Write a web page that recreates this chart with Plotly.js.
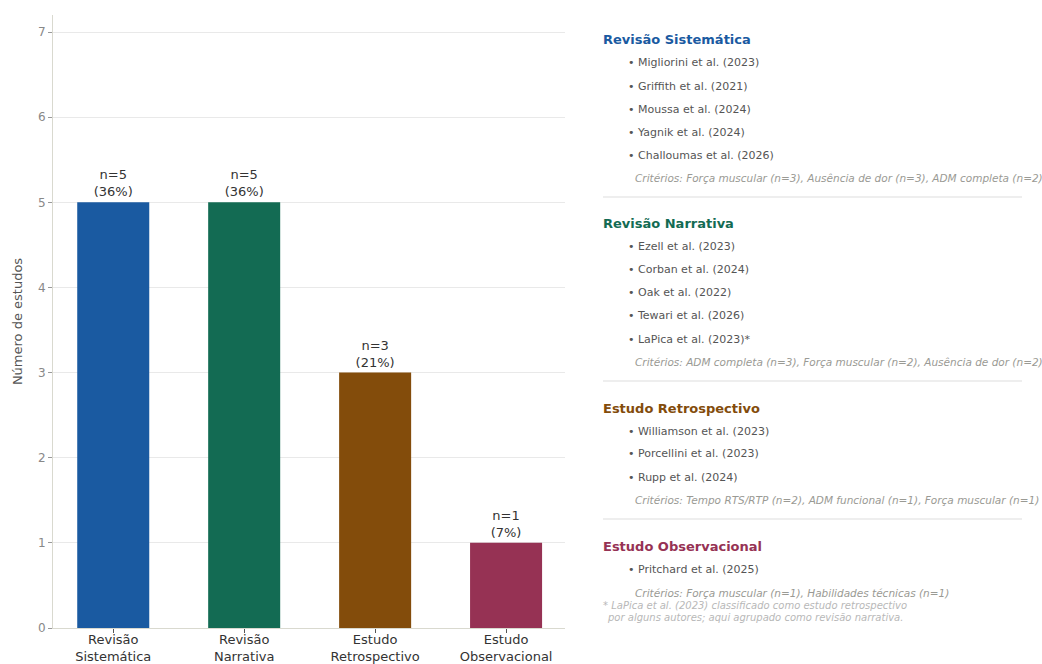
<!DOCTYPE html>
<html>
<head>
<meta charset="utf-8">
<script src="https://cdn.plot.ly/plotly-3.0.1.min.js"></script>
<style>html,body{margin:0;padding:0;background:#fff;}#chart{width:1042px;height:664px;}</style>
</head>
<body>
<div id="chart"></div>
<script>
// ---- data ----
const categories = ["Revisão<br>Sistemática", "Revisão<br>Narrativa", "Estudo<br>Retrospectivo", "Estudo<br>Observacional"];
const groupNames = ["Revisão Sistemática", "Revisão Narrativa", "Estudo Retrospectivo", "Estudo Observacional"];
const counts = [5, 5, 3, 1];
const percents = [36, 36, 21, 7];
const colors = ["#1a5aa1", "#136b53", "#834c0b", "#963254"];
const studiesSistematica = ["Migliorini et al. (2023)", "Griffith et al. (2021)", "Moussa et al. (2024)", "Yagnik et al. (2024)", "Challoumas et al. (2026)"];
const studiesNarrativa = ["Ezell et al. (2023)", "Corban et al. (2024)", "Oak et al. (2022)", "Tewari et al. (2026)", "LaPica et al. (2023)*"];
const studiesRetrospectivo = ["Williamson et al. (2023)", "Porcellini et al. (2023)", "Rupp et al. (2024)"];
const studiesObservacional = ["Pritchard et al. (2025)"];
const criterios = [
  "Critérios: Força muscular (n=3), Ausência de dor (n=3), ADM completa (n=2)",
  "Critérios: ADM completa (n=3), Força muscular (n=2), Ausência de dor (n=2)",
  "Critérios: Tempo RTS/RTP (n=2), ADM funcional (n=1), Força muscular (n=1)",
  "Critérios: Força muscular (n=1), Habilidades técnicas (n=1)"
];
const footnoteLines = ["* LaPica et al. (2023) classificado como estudo retrospectivo", "por alguns autores; aqui agrupado como revisão narrativa."];
const yTitle = "Número de estudos";

// ---- layout helpers ----
const W = 1042, H = 664;
const px = x => x / W;
const py = y => 1 - y / H;
const FONT = "DejaVu Sans, sans-serif";

const studyLists = [studiesSistematica, studiesNarrativa, studiesRetrospectivo, studiesObservacional];
const annotations = [];
const shapes = [];
let cursor = 40;
for (let g = 0; g < groupNames.length; g++) {
  annotations.push({xref:'paper', yref:'paper', x:px(601), y:py(cursor), xanchor:'left', yanchor:'middle', showarrow:false,
    text:'<b>' + groupNames[g] + '</b>', font:{family:FONT, size:13, color:colors[g]}});
  for (const s of studyLists[g]) {
    cursor += 23;
    annotations.push({xref:'paper', yref:'paper', x:px(626), y:py(cursor), xanchor:'left', yanchor:'middle', showarrow:false,
      text:'• ' + s, font:{family:FONT, size:11, color:'#555555'}});
  }
  cursor += (g === groupNames.length - 1) ? 24 : 23;
  annotations.push({xref:'paper', yref:'paper', x:px(633), y:py(cursor), xanchor:'left', yanchor:'middle', showarrow:false,
    text:'<i>' + criterios[g] + '</i>', font:{family:FONT, size:10.5, color:'#9a9a94'}});
  if (g < groupNames.length - 1) {
    cursor += 19;
    shapes.push({type:'line', xref:'paper', yref:'paper', x0:px(603), x1:px(1022), y0:py(cursor), y1:py(cursor),
      line:{color:'#dddddd', width:1}});
    cursor += 27;
  }
}
annotations.push({xref:'paper', yref:'paper', x:px(601), y:py(605), xanchor:'left', yanchor:'middle', showarrow:false,
  text:'<i>' + footnoteLines[0] + '</i>', font:{family:FONT, size:10, color:'#b8b8b8'}});
annotations.push({xref:'paper', yref:'paper', x:px(605), y:py(617), xanchor:'left', yanchor:'middle', showarrow:false,
  text:'<i>' + footnoteLines[1] + '</i>', font:{family:FONT, size:10, color:'#b8b8b8'}});

const trace = {
  type:'bar',
  x:categories,
  y:counts,
  marker:{color:colors},
  width:0.55,
  text:counts.map((c,i) => 'n=' + c + '<br>(' + percents[i] + '%)'),
  textposition:'outside',
  textfont:{family:FONT, size:13, color:'#333333'},
  cliponaxis:false,
  hoverinfo:'none'
};

const layout = {
  width:W, height:H,
  margin:{l:0, r:0, t:0, b:0},
  paper_bgcolor:'#ffffff', plot_bgcolor:'#ffffff',
  showlegend:false,
  font:{family:FONT},
  xaxis:{
    domain:[px(53), px(565)],
    range:[-0.46, 3.45],
    showgrid:false, zeroline:false,
    showline:true, linecolor:'#d9d9cf', linewidth:1,
    ticks:'outside', ticklen:4, tickcolor:'#555555',
    ticklabelstandoff:-5,
    tickfont:{family:FONT, size:13, color:'#333333'}
  },
  yaxis:{
    domain:[1 - 628/H, 1 - 15/H],
    range:[0, 7.2],
    dtick:1, tick0:0,
    showgrid:true, gridcolor:'#e9e9e9', gridwidth:1,
    zeroline:false,
    showline:true, linecolor:'#d9d9cf', linewidth:1,
    ticks:'outside', ticklen:4, tickcolor:'#999999',
    tickfont:{family:FONT, size:12, color:'#888888'},
    title:{text:yTitle, font:{family:FONT, size:13, color:'#555555'}, standoff:12}
  },
  annotations:annotations,
  shapes:shapes
};

Plotly.newPlot('chart', [trace], layout, {displayModeBar:false, staticPlot:true});
</script>
</body>
</html>
